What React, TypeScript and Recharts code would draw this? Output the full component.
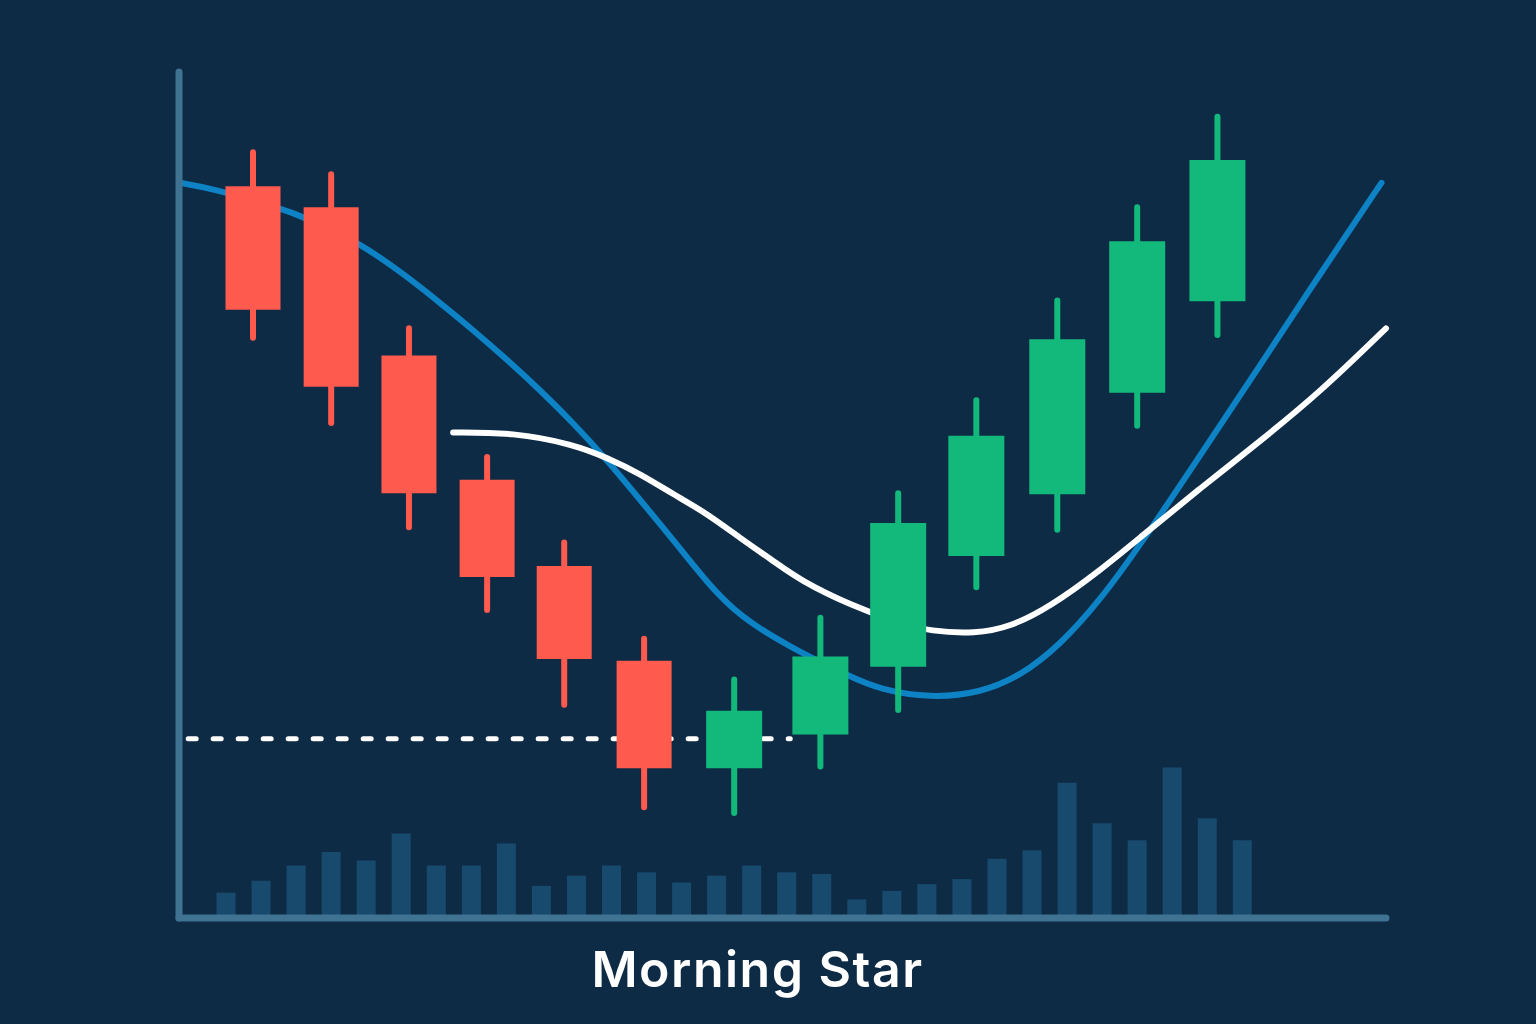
import React from 'react';
import { ComposedChart, Bar, Line, XAxis, YAxis, ReferenceLine } from 'recharts';

const BG = '#0e2b46';
const AXIS = '#3f7391';
const VOL = '#184a6e';
const RED = '#ff5a4e';
const GREEN = '#12b97b';
const BLUE = '#0d83c5';

// volume, one bar per session slot
const volume = [
  1.5, 2.2, 3.1, 3.9, 3.4, 5.0, 3.1, 3.1, 4.4, 1.9, 2.5, 3.1, 2.7, 2.1, 2.5,
  3.1, 2.7, 2.6, 1.1, 1.6, 2.0, 2.3, 3.5, 4.0, 8.0, 5.6, 4.6, 8.9, 5.9, 4.6,
];

// candles (time in slot units)
const candleTime = [0.77, 3.0, 5.22, 7.45, 9.65, 11.93, 14.5, 16.96, 19.18, 21.41, 23.72, 26.0, 28.29];
const open = [86.5, 84.0, 66.5, 51.8, 41.6, 30.4, 17.7, 21.7, 29.7, 42.8, 50.1, 62.1, 72.9];
const close = [71.9, 62.8, 50.2, 40.3, 30.6, 17.7, 24.5, 30.9, 46.7, 57.0, 68.4, 80.0, 89.6];
const high = [90.5, 87.9, 69.7, 54.5, 44.4, 33.0, 28.2, 35.5, 50.2, 61.2, 73.0, 84.0, 94.7];
const low = [68.6, 58.5, 46.2, 36.4, 25.2, 13.1, 12.4, 17.9, 24.6, 39.1, 45.9, 58.2, 68.9];

// moving averages
const blueX = [-1.31, -0.46, 1.54, 2.2, 3.83, 5.17, 6.11, 7.05, 8.02, 8.96, 9.91, 10.88, 11.82, 12.76, 13.73, 14.67, 16.01, 17.81, 18.67, 20.1, 21.52, 22.67, 23.81, 24.95, 26.09, 27.8, 29.52, 31.23, 32.97];
const blueY = [86.9, 86.3, 83.9, 82.9, 79.8, 75.8, 72.7, 69.5, 66.0, 62.4, 58.5, 54.1, 49.4, 44.7, 39.6, 35.6, 32.2, 28.5, 27.0, 26.0, 26.6, 28.6, 32.3, 37.6, 44.1, 54.7, 65.4, 76.2, 86.9];
const whiteX = [6.48, 8.19, 9.91, 10.88, 11.82, 12.76, 13.73, 14.67, 15.62, 16.39, 17.81, 19.24, 20.1, 21.38, 22.38, 23.52, 24.95, 26.09, 27.8, 29.52, 31.23, 33.1];
const whiteY = [57.4, 57.4, 56.0, 54.4, 52.5, 50.1, 47.8, 44.9, 42.2, 39.9, 37.0, 34.8, 33.9, 33.6, 34.4, 36.8, 41.1, 45.0, 50.8, 56.4, 62.2, 69.7];

// support level (dashed)
const supportLevel = 21.2;
const supportFrom = -1.08;
const supportTo = 16.1;

const volumeData = volume.map((v, i) => ({ x: i, vol: v }));
const blueData = blueX.map((x, i) => ({ x, y: blueY[i] }));
const whiteData = whiteX.map((x, i) => ({ x, y: whiteY[i] }));

// each candle becomes a vertical segment, separated by a null so the path breaks
const segments = (up: boolean, a: number[], b: number[]) =>
  candleTime.flatMap((t, i) =>
    close[i] >= open[i] === up
      ? [
          { x: t, y: a[i] },
          { x: t, y: b[i] },
          { x: t, y: null },
        ]
      : []
  );

const redWicks = segments(false, low, high);
const redBodies = segments(false, open, close);
const greenWicks = segments(true, low, high);
const greenBodies = segments(true, open, close);

const xDomain: [number, number] = [-1.342, 33.1];
const axisLine = { stroke: AXIS, strokeWidth: 7, strokeLinecap: 'round' as const };

const candleLine = (data: any[], color: string, width: number, cap: 'round' | 'butt', key: string) => (
  <Line
    key={key}
    xAxisId="slot"
    yAxisId="price"
    data={data}
    dataKey="y"
    type="linear"
    stroke={color}
    strokeWidth={width}
    strokeLinecap={cap}
    connectNulls={false}
    dot={false}
    activeDot={false}
    isAnimationActive={false}
  />
);

export default function App() {
  return (
    <div
      style={{
        position: 'absolute',
        left: 0,
        top: 0,
        width: 1536,
        height: 1024,
        background: BG,
        overflow: 'hidden',
      }}
    >
      <ComposedChart
        width={1536}
        height={1024}
        data={volumeData}
        margin={{ top: 72, right: 150, bottom: 105, left: 178 }}
      >
        <XAxis
          xAxisId="slot"
          type="number"
          dataKey="x"
          domain={xDomain}
          height={1}
          tick={false}
          tickLine={false}
          axisLine={axisLine}
        />
        <XAxis xAxisId="volx" type="number" dataKey="x" domain={xDomain} hide />
        <YAxis
          yAxisId="price"
          type="number"
          domain={[0, 100]}
          width={1}
          tick={false}
          tickLine={false}
          axisLine={axisLine}
        />
        <YAxis yAxisId="vol" type="number" domain={[0, 50]} hide />
        <Bar
          xAxisId="volx"
          yAxisId="vol"
          dataKey="vol"
          barSize={19}
          fill={VOL}
          isAnimationActive={false}
        />
        <Line
          xAxisId="slot"
          yAxisId="price"
          data={blueData}
          dataKey="y"
          type="basis"
          stroke={BLUE}
          strokeWidth={6}
          strokeLinecap="round"
          dot={false}
          activeDot={false}
          isAnimationActive={false}
        />
        <Line
          xAxisId="slot"
          yAxisId="price"
          data={whiteData}
          dataKey="y"
          type="basis"
          stroke="#ffffff"
          strokeWidth={6}
          strokeLinecap="round"
          dot={false}
          activeDot={false}
          isAnimationActive={false}
        />
        <ReferenceLine
          xAxisId="slot"
          yAxisId="price"
          segment={[
            { x: supportFrom, y: supportLevel },
            { x: supportTo, y: supportLevel },
          ]}
          stroke="#ffffff"
          strokeWidth={5}
          strokeDasharray="8 17"
          strokeLinecap="round"
        />
        {candleLine(redWicks, RED, 6, 'round', 'rw')}
        {candleLine(redBodies, RED, 55, 'butt', 'rb')}
        {candleLine(greenWicks, GREEN, 6, 'round', 'gw')}
        {candleLine(greenBodies, GREEN, 56, 'butt', 'gb')}
      </ComposedChart>
      <div
        style={{
          position: 'absolute',
          left: 0,
          width: 1515,
          top: 944,
          textAlign: 'center',
          fontFamily: 'Inter, sans-serif',
          fontWeight: 600,
          fontSize: 50,
          lineHeight: '50px',
          letterSpacing: 1.5,
          color: '#ffffff',
        }}
      >
        Morning Star
      </div>
    </div>
  );
}
